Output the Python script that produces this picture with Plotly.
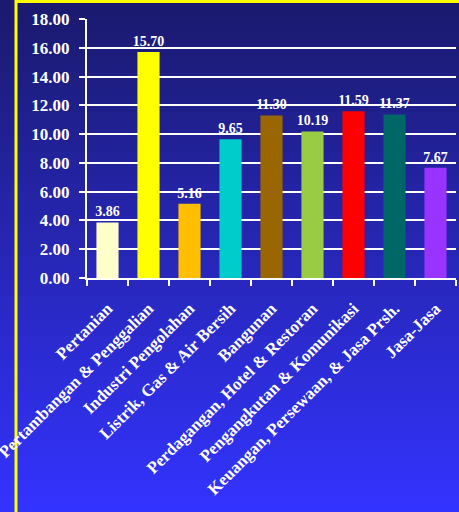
import plotly.graph_objects as go

categories = ["Pertanian", "Pertambangan & Penggalian", "Industri Pengolahan",
              "Listrik, Gas & Air Bersih", "Bangunan", "Perdagangan, Hotel & Restoran",
              "Pengangkutan & Komunikasi", "Keuangan, Persewaan, & Jasa Prsh.", "Jasa-Jasa"]
values = [3.86, 15.70, 5.16, 9.65, 11.30, 10.19, 11.59, 11.37, 7.67]
bar_colors = ["#ffffcc", "#ffff00", "#ffbf00", "#00cccc", "#996600",
              "#99cc44", "#ff0000", "#006666", "#9933ff"]
y_ticks = [0, 2, 4, 6, 8, 10, 12, 14, 16, 18]

W, H = 459, 512
L, R, T, B = 87, 3, 19, 234
pw, ph = W - L - R, H - T - B

def px_x(p):
    return (p - L) / pw

def px_y(p):
    return (H - B - p) / ph

FONT = "Liberation Serif"

fig = go.Figure(go.Bar(
    x=categories, y=values,
    marker=dict(color=bar_colors, line=dict(width=0)),
    text=[f"{v:.2f}" for v in values],
    textposition="outside",
    constraintext="none",
    textfont=dict(color="white", size=14, family=FONT, weight="bold"),
    cliponaxis=False,
    width=0.54,
    hoverinfo="skip",
))

shapes = []
n = 64
top = (26, 26, 110)
bot = (51, 51, 255)
for i in range(n):
    t = i / (n - 1)
    c = tuple(round(top[k] + (bot[k] - top[k]) * t) for k in range(3))
    y0 = i * H / n
    y1 = (i + 1) * H / n + 1
    shapes.append(dict(type="rect", xref="paper", yref="paper",
                       x0=px_x(-5), x1=px_x(W + 5), y0=px_y(y0), y1=px_y(y1),
                       fillcolor=f"rgb{c}", line=dict(width=0), layer="below"))
# yellow border
shapes.append(dict(type="rect", xref="paper", yref="paper",
                   x0=px_x(16), x1=px_x(W + 10), y0=px_y(1.5), y1=px_y(H + 10),
                   fillcolor="rgba(0,0,0,0)", line=dict(color="#ffff00", width=3),
                   layer="below"))

fig.update_layout(
    width=W, height=H,
    margin=dict(l=L, r=R, t=T, b=B, autoexpand=False),
    paper_bgcolor="rgba(0,0,0,0)", plot_bgcolor="rgba(0,0,0,0)",
    showlegend=False,
    shapes=shapes,
    bargap=0.46,
    xaxis=dict(
        tickangle=-45, tickson="boundaries", ticks="outside", ticklen=6,
        tickcolor="white", tickwidth=2,
        ticklabelstandoff=12,
        showline=True, linecolor="white", linewidth=2,
        showgrid=False,
        tickfont=dict(color="white", size=17, family=FONT, weight="bold"),
    ),
    yaxis=dict(
        range=[0, 18], tickvals=y_ticks, tickformat=".2f",
        ticks="outside", ticklen=6, tickcolor="white", tickwidth=2,
        ticklabelstandoff=6,
        showline=True, linecolor="white", linewidth=2,
        showgrid=True, gridcolor="white", gridwidth=2,
        zeroline=False,
        tickfont=dict(color="white", size=17, family=FONT, weight="bold"),
    ),
)

fig.write_html("out.html",
               config={"displayModeBar": False},
               post_script="document.body.style.margin='0';document.body.style.background='rgb(51,51,255)';")
